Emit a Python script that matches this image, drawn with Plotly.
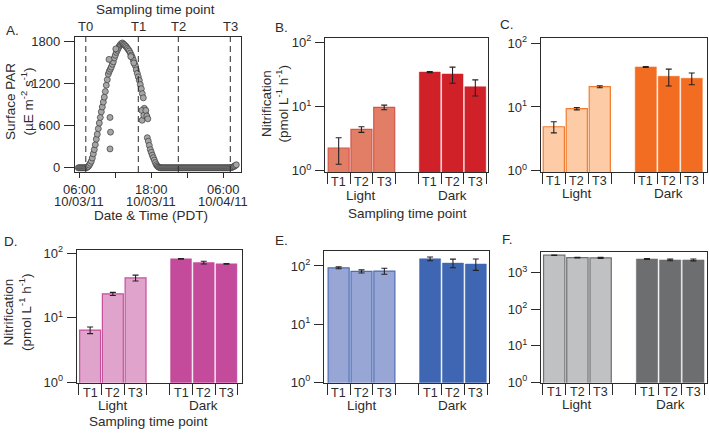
import pandas as pd
import plotly.graph_objects as go

W, H = 709, 433

# Surface PAR (uE m-2 s-1), logger reads every 10 min starting 05:50 on 10/03/11
par_start = "2011-10-03 05:50"
par_values = [
    0,
    0, 0, 0, 0, 0, 0,                      # 06:00
    0, 2, 8, 20, 40, 65,                   # 07:00
    95, 140, 200, 260, 330, 410,           # 08:00
    480, 560, 640, 720, 800, 870,          # 09:00
    940, 1010, 1090, 1180, 1260, 1340,     # 10:00
    1380, 1410, 1440, 1480, 1515, 1570,    # 11:00
    1610, 1650, 1680, 1710, 1740, 1760,    # 12:00
    1775, 1785, 1770, 1760, 1745, 1730,    # 13:00
    1710, 1690, 1670, 1640, 1610, 1580,    # 14:00
    1540, 1495, 1460, 1400, 1350, 1300,    # 15:00
    1250, 1190, 1130, 1060, 1000, 850,     # 16:00
    780, 720, 430, 380, 320, 260,          # 17:00
    220, 180, 145, 110, 75, 45,            # 18:00
    25, 12, 5, 0, 0, 0,                    # 19:00
    0, 0, 0, 0, 0, 0,                      # 20:00
    0, 0, 0, 0, 0, 0,                      # 21:00
    0, 0, 0, 0, 0, 0,                      # 22:00
    0, 0, 0, 0, 0, 0,                      # 23:00
    0, 0, 0, 0, 0, 0,                      # 00:00 10/04
    0, 0, 0, 0, 0, 0,                      # 01:00
    0, 0, 0, 0, 0, 0,                      # 02:00
    0, 0, 0, 0, 0, 0,                      # 03:00
    0, 0, 0, 0, 0, 0,                      # 04:00
    0, 0, 0, 0, 0, 0,                      # 05:00
    0, 0, 0, 0, 0, 0,                      # 06:00
    0, 2, 5, 8, 14, 22,                    # 07:00
    32, 43,                                # 08:00
]
# scattered readings (cloud breaks etc.)
par_extra_times = ["2011-10-03 10:57", "2011-10-03 11:07", "2011-10-03 11:12", "2011-10-03 11:07",
                   "2011-10-03 12:05", "2011-10-03 14:35", "2011-10-03 15:05",
                   "2011-10-03 16:25", "2011-10-03 16:28", "2011-10-03 16:45",
                   "2011-10-03 17:05", "2011-10-03 17:15", "2011-10-03 17:25"]
par_extra_values = [1550, 720, 510, 270, 1700, 1590, 1500, 820, 680, 750, 820, 740, 700]

par_ticks = ["2011-10-03 06:00", "2011-10-03 12:00", "2011-10-03 18:00",
             "2011-10-04 00:00", "2011-10-04 06:00"]
par_tick_times = ["06:00", "", "18:00", "", "06:00"]
par_tick_dates = ["10/03/11", "", "10/03/11", "", "10/04/11"]

sample_names = ["T0", "T1", "T2", "T3"]
sample_times = ["2011-10-03 07:05", "2011-10-03 15:50", "2011-10-03 22:30", "2011-10-04 07:10"]

timepoints = ["T1", "T2", "T3"]
groups = ["Light", "Dark"]

# nitrification rates (pmol L-1 h-1), mean and error
b_light = [2.26, 4.4, 9.7]
b_light_err = [1.0, 0.45, 0.8]
b_dark = [34.4, 32.1, 20.3]
b_dark_err = [0.7, 9.0, 5.7]

c_light = [4.9, 9.4, 20.8]
c_light_err = [0.97, 0.4, 0.8]
c_dark = [42.5, 30.3, 28.2]
c_dark_err = [0.8, 9.0, 5.9]

d_light = [6.4, 23.4, 41.4]
d_light_err = [0.76, 1.3, 4.3]
d_dark = [81.8, 71.6, 68.4]
d_dark_err = [1.0, 3.5, 1.0]

e_light = [93, 80.7, 81.7]
e_light_err = [3.5, 5, 9.5]
e_dark = [133, 112, 108]
e_dark_err = [10, 19, 24]

f_light = [3030, 2600, 2550]
f_light_err = [50, 50, 90]
f_dark = [2390, 2250, 2250]
f_dark_err = [60, 120, 130]


def px(x):
    return x / W


def py(y):
    return 1 - y / H


FONT = "Liberation Sans, Arial, sans-serif"
INK = "#2b2b2b"

fig = go.Figure()

# ---- panel A: surface PAR
par_times = pd.date_range(par_start, periods=len(par_values), freq="10min")
marker = dict(size=6, color="#a6a6a6", line=dict(color="#3a3a3a", width=0.7))
fig.add_trace(go.Scatter(x=par_times, y=par_values, mode="markers", marker=marker,
                         xaxis="x", yaxis="y", showlegend=False))
fig.add_trace(go.Scatter(x=pd.to_datetime(par_extra_times), y=par_extra_values, mode="markers",
                         marker=marker, xaxis="x", yaxis="y", showlegend=False))

frame = dict(showline=True, linecolor=INK, linewidth=1.3, mirror=True, showgrid=False,
             zeroline=False, tickcolor=INK, tickwidth=1.2, automargin=False)

layout = dict(
    xaxis=dict(frame, domain=[px(75), px(240.7)], anchor="y", type="date",
               range=["2011-10-03 05:17", "2011-10-04 08:54"],
               tickvals=par_ticks, ticktext=par_tick_times,
               ticks="outside", ticklen=5, ticklabelstandoff=0, tickfont=dict(size=13)),
    yaxis=dict(frame, domain=[py(172), py(37)], anchor="x", range=[-60, 1870],
               tickvals=[0, 600, 1200, 1800], ticks="outside", ticklen=10,
               ticklabelstandoff=1, tickfont=dict(size=13)),
)

shapes = []
annotations = []
for name, t in zip(sample_names, sample_times):
    shapes.append(dict(type="line", xref="x", yref="y domain", x0=t, x1=t, y0=0, y1=1,
                       line=dict(color=INK, width=1, dash="6px,4px")))
    annotations.append(dict(text=name, xref="x", x=t, yref="paper", y=py(26.5),
                            yanchor="middle", showarrow=False, font=dict(size=13)))
for t, d in zip(par_ticks, par_tick_dates):
    if d:
        annotations.append(dict(text=d, xref="x", x=t, yref="paper", y=py(201),
                                yanchor="middle", showarrow=False, font=dict(size=13)))


def ann(text, x, y, size=13.5, angle=0):
    return dict(text=text, x=px(x), y=py(y), xref="paper", yref="paper", showarrow=False,
                font=dict(size=size), textangle=angle, xanchor="center", yanchor="middle")


annotations += [
    ann("Sampling time point", 155.5, 9.5),
    ann("Date &amp; Time (PDT)", 150.5, 215),
    ann("Surface PAR<br>(µE m<sup>-2</sup> s<sup>-1</sup>)", 19, 102, angle=-90),
    ann("A.", 12.5, 30.5), ann("B.", 281, 28), ann("C.", 507, 25),
    ann("D.", 11, 241.5), ann("E.", 281, 240.5), ann("F.", 507, 240),
    ann("Nitrification<br>(pmol L<sup>-1</sup> h<sup>-1</sup>)", 275.5, 104, angle=-90),
    ann("Nitrification<br>(pmol L<sup>-1</sup> h<sup>-1</sup>)", 17, 312, angle=-90),
    ann("Sampling time point", 407.5, 213.5),
    ann("Sampling time point", 148, 421.5),
]

# ---- panels B-F: nitrification bars
light_pos = [0, 1, 2]
dark_pos = [4, 5, 6]
bounds = [-0.5, 0.5, 1.5, 2.5, 3.5, 4.5, 5.5, 6.5]

panels = [
    # data, colours, box (left, top, right, bottom px), x range, log y range, y ticks,
    # T-label row y, group-label row y
    (b_light, b_light_err, b_dark, b_dark_err, "#e27d66", "#d4564a", "#d02128",
     (325, 37.7, 488.3, 172), [-0.6, 6.57], [-0.02, 2.072], [1, 10, 100], 181.7, 195.5),
    (c_light, c_light_err, c_dark, c_dark_err, "#fdcba6", "#f07d31", "#f26d22",
     (540.7, 38.3, 706.7, 172.3), [-0.57, 6.65], [-0.025, 2.078], [1, 10, 100], 180.7, 193.5),
    (d_light, d_light_err, d_dark, d_dark_err, "#e0a3cb", "#c4519c", "#c44b9c",
     (76.7, 250, 241.7, 382.7), [-0.59, 6.67], [-0.01, 2.05], [1, 10, 100], 393.3, 405),
    (e_light, e_light_err, e_dark, e_dark_err, "#98a6d6", "#4d6db4", "#3f66b2",
     (324, 251, 489.3, 382.7), [-0.64, 6.59], [-0.01, 2.258], [1, 10, 100], 392.7, 405),
    (f_light, f_light_err, f_dark, f_dark_err, "#c0c1c3", "#6e6f71", "#6d6e70",
     (541, 251.7, 707.3, 382.7), [-0.57, 6.6], [-0.01, 3.577], [1, 10, 100, 1000], 391.7, 404),
]

for k, (lv, le, dv, de, lfill, lline, dfill, box, xr, yr, yt, ty, gy) in enumerate(panels, start=2):
    xa, ya = f"x{k}", f"y{k}"
    err = dict(type="data", color="#222", thickness=1.1, width=3)
    fig.add_trace(go.Bar(x=light_pos, y=lv, width=0.92, xaxis=xa, yaxis=ya, showlegend=False,
                         marker=dict(color=lfill, line=dict(color=lline, width=1.2)),
                         error_y=dict(err, array=le)))
    fig.add_trace(go.Bar(x=dark_pos, y=dv, width=0.92, xaxis=xa, yaxis=ya, showlegend=False,
                         marker=dict(color=dfill, line=dict(color=dfill, width=0.5)),
                         error_y=dict(err, array=de)))
    left, top, right, bottom = box
    layout[f"xaxis{k}"] = dict(frame, domain=[px(left), px(right)], anchor=ya, range=xr,
                               tickvals=bounds, showticklabels=False,
                               ticks="outside", ticklen=11)
    layout[f"yaxis{k}"] = dict(frame, domain=[py(bottom), py(top)], anchor=xa, type="log",
                               range=yr, tickvals=yt,
                               ticktext=[f"10<sup>{i}</sup>" for i in range(len(yt))],
                               ticks="outside", ticklen=9, ticklabelstandoff=1,
                               tickfont=dict(size=13))
    for lab, c in zip(timepoints * 2, light_pos + dark_pos):
        annotations.append(dict(text=lab, xref=xa, x=c, yref="paper", y=py(ty),
                                yanchor="middle", showarrow=False, font=dict(size=12.5)))
    for g, c in zip(groups, [1, 5]):
        annotations.append(dict(text=g, xref=xa, x=c, yref="paper", y=py(gy),
                                yanchor="middle", showarrow=False, font=dict(size=13.5)))

fig.update_layout(
    width=W, height=H, margin=dict(l=0, r=0, t=0, b=0),
    paper_bgcolor="white", plot_bgcolor="white",
    font=dict(family=FONT, size=13, color=INK),
    barmode="overlay", showlegend=False,
    shapes=shapes, annotations=annotations,
    **layout,
)

# page body has a default 8px margin; drop it so the figure sits at the window origin
fig.write_html("out.html", config={"displayModeBar": False},
               post_script="document.body.style.margin = '0px';")
